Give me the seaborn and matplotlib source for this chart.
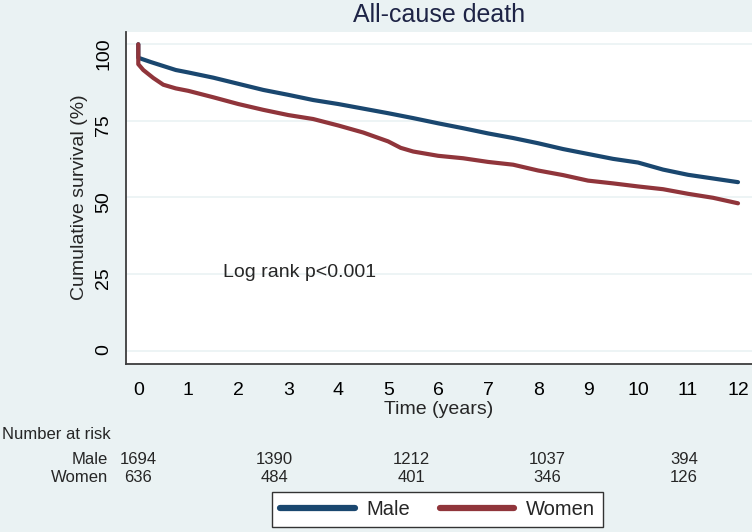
import matplotlib
matplotlib.use("Agg")
import matplotlib.pyplot as plt
import matplotlib.transforms as mtransforms
from matplotlib.lines import Line2D
import seaborn as sns
import pandas as pd

# Kaplan-Meier curves (time in years, survival in %)
male_time = [0, 0, 0.25, 0.5, 0.75, 1, 1.5, 2, 2.5, 3, 3.5, 4, 4.5, 5, 5.5, 6,
             6.5, 7, 7.5, 8, 8.5, 9, 9.5, 10, 10.5, 11, 11.5, 12]
male_surv = [100, 95.6, 94.2, 92.9, 91.6, 90.8, 89.1, 87.1, 85.1, 83.5, 81.8, 80.5,
             79.0, 77.5, 75.9, 74.2, 72.6, 70.9, 69.4, 67.7, 65.8, 64.2, 62.6, 61.4,
             59.1, 57.4, 56.2, 55.0]
women_time = [0, 0, 0.1, 0.3, 0.5, 0.75, 1, 1.5, 2, 2.5, 3, 3.5, 4, 4.5, 5, 5.25, 5.5,
              6, 6.5, 7, 7.5, 8, 8.5, 9, 9.5, 10, 10.5, 11, 11.5, 12]
women_surv = [100, 93.5, 91.6, 89.0, 86.8, 85.6, 84.8, 82.7, 80.5, 78.6, 76.9, 75.6,
              73.5, 71.2, 68.3, 66.2, 65.0, 63.6, 62.8, 61.6, 60.7, 58.8, 57.3, 55.5,
              54.6, 53.6, 52.7, 51.2, 49.9, 48.1]

# number at risk table
risk_times = [0, 3, 6, 9, 12]
risk_male = [1694, 1390, 1212, 1037, 394]
risk_women = [636, 484, 401, 346, 126]

groups = ["Male", "Women"]
colors = {"Male": "#1A476F", "Women": "#90353B"}
BG = "#EAF2F3"
W, H = 752, 532

sns.set_style("white")
plt.rcParams["font.family"] = ["Liberation Sans", "DejaVu Sans"]

df = pd.concat([
    pd.DataFrame({"time": male_time, "survival": male_surv, "group": "Male"}),
    pd.DataFrame({"time": women_time, "survival": women_surv, "group": "Women"}),
], ignore_index=True)

fig = plt.figure(figsize=(W / 100, H / 100), dpi=100, facecolor=BG)
ax = fig.add_axes([126 / W, (H - 363.5) / H, (W - 126) / W, (363.5 - 31.7) / H])
ax.set_facecolor("white")

sns.lineplot(data=df, x="time", y="survival", hue="group", hue_order=groups,
             palette=colors, estimator=None, sort=False, lw=3.0, legend=False, ax=ax)

ax.set_xlim(-0.246, 12.28)
ax.set_ylim(-4.18, 104.1)
ax.set_xticks(range(13))
ax.set_yticks([0, 25, 50, 75, 100])
ax.yaxis.grid(True, color=BG, lw=1.2)
ax.xaxis.grid(False)
ax.set_axisbelow(True)
for s in ["top", "right"]:
    ax.spines[s].set_visible(False)
for s in ["left", "bottom"]:
    ax.spines[s].set_color("#3d3d3d")
    ax.spines[s].set_linewidth(1.3)
ax.tick_params(axis="both", direction="out", length=6, width=1.1, color="#3d3d3d",
               labelsize=14, labelcolor="black")
ax.tick_params(axis="x", pad=7)
ax.tick_params(axis="y", labelrotation=90, pad=4)

ax.set_xlabel("Time (years)", fontsize=14)
ax.xaxis.set_label_coords(0.5, -0.112)
ax.set_ylabel("Cumulative survival (%)", fontsize=14)
ax.yaxis.set_label_coords(-0.06, 0.5)
ax.set_title("All-cause death", fontsize=18, color="#1E2446", pad=7.2)

ax.text(1.69, 24.2, "Log rank p<0.001", fontsize=14, ha="left", va="baseline")

# risk table, own x scale like stata's risktable
ax_r = fig.add_axes([138 / W, 0.0, (684 - 138) / W, 0.01])
ax_r.set_xlim(0, 12)
ax_r.axis("off")
trans = mtransforms.blended_transform_factory(ax_r.transData, fig.transFigure)
row_male = 1 - 464 / H
row_women = 1 - 482.5 / H
for t, nm, nw in zip(risk_times, risk_male, risk_women):
    ax_r.text(t, row_male, str(nm), transform=trans, ha="center", va="baseline", fontsize=12)
    ax_r.text(t, row_women, str(nw), transform=trans, ha="center", va="baseline", fontsize=12)
fig.text(2 / W, 1 - 439 / H, "Number at risk", ha="left", va="baseline", fontsize=12)
fig.text(108 / W, row_male, "Male", ha="right", va="baseline", fontsize=12)
fig.text(108 / W, row_women, "Women", ha="right", va="baseline", fontsize=12)

handles = [Line2D([], [], color=colors[g], lw=4.5) for g in groups]
leg = fig.legend(handles, groups, loc="upper center", bbox_to_anchor=(437.5 / W, 1 - 492 / H),
                 ncol=2, frameon=True, fancybox=False, edgecolor="#333333", facecolor="white",
                 framealpha=1, fontsize=14.5, handlelength=3.7, handletextpad=0.55,
                 columnspacing=1.5, borderpad=0.4, borderaxespad=0)
leg.get_frame().set_linewidth(1.0)

fig.savefig("out.png", dpi=100, facecolor=BG)
